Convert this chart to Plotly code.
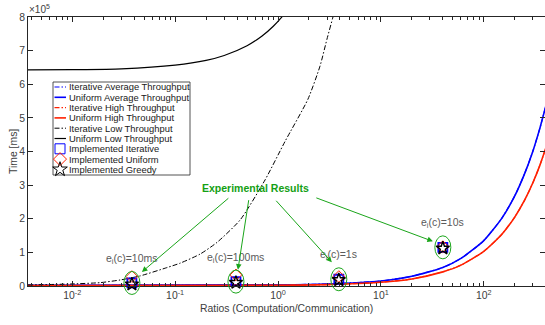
import math
import plotly.graph_objects as go

# ---------------- model curves: time [ms] vs computation/communication ratio ----------------
ratio_avg_high = [0.0037, 1, 3, 10, 20, 40, 60, 100, 150, 200, 250, 300, 350, 400]
iterative_avg = [2e3, 3.5e3, 6e3, 1.5e4, 2.9e4, 5.5e4, 8.2e4, 1.35e5, 2.02e5, 2.68e5, 3.35e5, 4.01e5, 4.68e5, 5.34e5]
uniform_avg = [2e3, 3.5e3, 6e3, 1.5e4, 2.9e4, 5.5e4, 8.2e4, 1.35e5, 2.02e5, 2.68e5, 3.35e5, 4.01e5, 4.68e5, 5.34e5]
iterative_high = [1e3, 2e3, 4e3, 1.1e4, 2.1e4, 4.2e4, 6.2e4, 1.03e5, 1.54e5, 2.05e5, 2.56e5, 3.07e5, 3.58e5, 4.1e5]
uniform_high = [1e3, 2e3, 4e3, 1.1e4, 2.1e4, 4.2e4, 6.2e4, 1.03e5, 1.54e5, 2.05e5, 2.56e5, 3.07e5, 3.58e5, 4.1e5]

ratio_low_uniform = [0.0037, 0.01, 0.03, 0.1, 0.2, 0.3, 0.5, 0.7, 0.9, 1.1, 1.3, 1.5]
uniform_low = [6.425e5, 6.435e5, 6.46e5, 6.57e5, 6.71e5, 6.855e5, 7.145e5, 7.435e5,
               7.725e5, 8.015e5, 8.305e5, 8.595e5]

ratio_low_iterative = [0.0037, 0.0096, 0.0187, 0.0293, 0.0457, 0.0837, 0.112, 0.175, 0.256,
                       0.43, 0.75, 1.17, 1.95, 2.56, 2.99, 3.42, 4.0]
iterative_low = [3e3, 6e3, 1.0e4, 1.8e4, 3.0e4, 5.5e4, 6.8e4, 9.5e4, 1.3e5,
                 1.97e5, 3.16e5, 4.3e5, 5.55e5, 6.54e5, 7.34e5, 8.0e5, 8.8e5]

# ---------------- measured (implemented) results ----------------
exp_ratio = [0.038, 0.39, 3.9, 40]
impl_iterative = [9e3, 1.3e4, 2.0e4, 1.15e5]
impl_uniform = [2.8e4, 3.3e4, 2.8e4, 1.17e5]
impl_greedy = [5e3, 1.0e4, 1.8e4, 1.12e5]
exp_labels = ["10ms", "100ms", "1s", "10s"]

# ---------------- axes ----------------
x_tick_vals = [0.01, 0.1, 1, 10, 100]
x_tick_text = ["10<sup>-2</sup>", "10<sup>-1</sup>", "10<sup>0</sup>", "10<sup>1</sup>", "10<sup>2</sup>"]
y_tick_vals = [0, 1e5, 2e5, 3e5, 4e5, 5e5, 6e5, 7e5, 8e5]
y_tick_text = ["0", "1", "2", "3", "4", "5", "6", "7", "8"]

legend_names = ["Iterative Average Throughput", "Uniform Average Throughput",
                "Iterative High Throughput", "Uniform High Throughput",
                "Iterative Low Throughput", "Uniform Low Throughput",
                "Implemented Iterative", "Implemented Uniform", "Implemented Greedy"]

X_RANGE = [-2.43, 2.595]
Y_RANGE = [0, 8e5]
W, H = 545, 325
M_L, M_R, M_T, M_B = 28, 0, 17, 39
PLOT_W, PLOT_H = W - M_L - M_R, H - M_T - M_B

FONT = "Liberation Sans, Arial, Helvetica, sans-serif"
AXIS = "#262626"
TEXT = "#404040"
GREEN = "#1aa51a"
BLUE = "#0000ff"
RED = "#ff2000"
BLACK = "#000000"
DASHDOT = "5px,2px,1.5px,2px"

minor_vals = [k * 10.0 ** d for d in range(-3, 3) for k in range(2, 10)]


def px_x(p):
    """page pixel column -> paper x"""
    return (p - M_L) / PLOT_W


def px_y(p):
    """page pixel row -> paper y"""
    return (H - M_B - p) / PLOT_H


def x_paper(r):
    return (math.log10(r) - X_RANGE[0]) / (X_RANGE[1] - X_RANGE[0])


def y_paper(v):
    return (v - Y_RANGE[0]) / (Y_RANGE[1] - Y_RANGE[0])


fig = go.Figure()

line_styles = [
    (ratio_avg_high, iterative_avg, BLUE, DASHDOT, 1.2),
    (ratio_avg_high, uniform_avg, BLUE, "solid", 1.6),
    (ratio_avg_high, iterative_high, RED, DASHDOT, 1.2),
    (ratio_avg_high, uniform_high, RED, "solid", 1.6),
    (ratio_low_iterative, iterative_low, BLACK, DASHDOT, 1.0),
    (ratio_low_uniform, uniform_low, BLACK, "solid", 1.2),
]
for (xs, ys, color, dash, width), name in zip(line_styles, legend_names[:6]):
    fig.add_trace(go.Scatter(
        x=xs, y=ys, mode="lines", name=name, showlegend=False,
        line=dict(color=color, dash=dash, width=width, shape="spline", smoothing=0.6),
    ))

marker_styles = [
    (impl_iterative, "square-open", BLUE, 9, 1.8),
    (impl_uniform, "diamond-open", RED, 9, 1.0),
    (impl_greedy, "star-open", BLACK, 10, 1.4),
]
for (ys, symbol, color, size, lw), name in zip(marker_styles, legend_names[6:]):
    fig.add_trace(go.Scatter(
        x=exp_ratio, y=ys, mode="markers", name=name, showlegend=False, cliponaxis=False,
        marker=dict(symbol=symbol, size=size, color=color, line=dict(color=color, width=lw)),
    ))

# green ellipses around each measured group
for r, v in zip(exp_ratio, impl_iterative):
    fig.add_shape(type="circle", xref="paper", yref="paper",
                  xsizemode="pixel", ysizemode="pixel",
                  xanchor=x_paper(r), yanchor=y_paper(v),
                  x0=-8, x1=8, y0=-11.5, y1=11.5,
                  line=dict(color=GREEN, width=1))

# e_i(c) labels above each group
for r, v, lab in zip(exp_ratio, impl_iterative, exp_labels):
    fig.add_annotation(x=math.log10(r), y=v, xref="x", yref="y",
                       text="e<sub>i</sub>(c)=" + lab, showarrow=False,
                       yshift=24, xanchor="center", yanchor="middle",
                       font=dict(family=FONT, size=10.5, color="#5a5a5a"))

# arrows from the caption to each group (head offset / tail offset in px)
arrow_offsets = [(10, 11, 88, -75), (2, 12, 11, -71), (-7, 17, -57, -63), (-10, 6, -118, -44)]
for (r, v), (dx, dy, ax, ay) in zip(zip(exp_ratio, impl_iterative), arrow_offsets):
    fig.add_annotation(x=math.log10(r), y=v, xref="x", yref="y", text="",
                       showarrow=True, xshift=dx, yshift=dy, ax=ax, ay=ay,
                       axref="pixel", ayref="pixel",
                       arrowhead=2, arrowsize=1.1, arrowwidth=1, arrowcolor=GREEN,
                       standoff=0, startstandoff=0)

fig.add_annotation(x=px_x(255), y=px_y(188), xref="paper", yref="paper",
                   text="<b>Experimental Results</b>", showarrow=False,
                   xanchor="center", yanchor="middle",
                   font=dict(family=FONT, size=10.5, color="#14a014"))

# axis titles and the exponent header
fig.add_annotation(x=px_x(286), y=px_y(308), xref="paper", yref="paper",
                   text="Ratios (Computation/Communication)", showarrow=False,
                   xanchor="center", yanchor="middle",
                   font=dict(family=FONT, size=10.4, color=TEXT))
fig.add_annotation(x=px_x(13), y=px_y(152), xref="paper", yref="paper", text="Time [ms]",
                   textangle=-90, showarrow=False, xanchor="center", yanchor="middle",
                   font=dict(family=FONT, size=10.4, color=TEXT))
fig.add_annotation(x=px_x(27), y=px_y(9), xref="paper", yref="paper",
                   text="\u00d710<sup>5</sup>", xanchor="left", yanchor="middle",
                   showarrow=False, font=dict(family=FONT, size=10, color=TEXT))

# legend drawn on a page-pixel overlay axis pair
fig.update_layout(
    xaxis2=dict(overlaying="x", range=[M_L, W - M_R], visible=False, fixedrange=True),
    yaxis2=dict(overlaying="y", range=[H - M_B, M_T], visible=False, fixedrange=True),
)
LEG_X0, LEG_X1, LEG_Y0, LEG_Y1 = 53, 190, 82, 175
ROW0, ROW_STEP = 87, 10.3
fig.add_shape(type="rect", xref="paper", yref="paper",
              x0=px_x(LEG_X0), x1=px_x(LEG_X1), y0=px_y(LEG_Y1), y1=px_y(LEG_Y0),
              line=dict(color=AXIS, width=0.8), fillcolor="white", layer="below")
for i, name in enumerate(legend_names):
    yy = ROW0 + i * ROW_STEP
    if i < 6:
        _, _, color, dash, width = line_styles[i]
        fig.add_trace(go.Scatter(x=[54.5, 66], y=[yy, yy], xaxis="x2", yaxis="y2", mode="lines",
                                 showlegend=False, hoverinfo="skip", cliponaxis=False,
                                 line=dict(color=color, dash=dash, width=width)))
    else:
        _, symbol, color, size, lw = marker_styles[i - 6]
        fig.add_trace(go.Scatter(x=[60], y=[yy], xaxis="x2", yaxis="y2", mode="markers",
                                 showlegend=False, hoverinfo="skip", cliponaxis=False,
                                 marker=dict(symbol=symbol, size=size + 1, color=color,
                                             line=dict(color=color, width=1))))
    fig.add_annotation(x=px_x(67), y=px_y(yy), xref="paper", yref="paper", text=name,
                       xanchor="left", yanchor="middle", showarrow=False,
                       font=dict(family=FONT, size=9.4, color="#202020"))

fig.update_layout(
    width=W, height=H,
    margin=dict(l=M_L, r=M_R, t=M_T, b=M_B, autoexpand=False),
    paper_bgcolor="white", plot_bgcolor="white",
    showlegend=False,
    font=dict(family=FONT, size=10.4, color=TEXT),
)
fig.update_layout(xaxis=dict(
    type="log", range=X_RANGE, tickmode="array", tickvals=x_tick_vals, ticktext=x_tick_text,
    ticks="inside", ticklen=5, tickwidth=1, tickcolor=AXIS,
    showline=True, linecolor=AXIS, linewidth=1, mirror="ticks",
    showgrid=False, zeroline=False, automargin=False,
    tickfont=dict(family=FONT, size=10.4, color=TEXT),
    minor=dict(tickmode="array", tickvals=minor_vals, ticks="inside", ticklen=3,
               tickwidth=1, tickcolor=AXIS, showgrid=False),
))
fig.update_layout(yaxis=dict(
    range=Y_RANGE, tickmode="array", tickvals=y_tick_vals, ticktext=y_tick_text,
    ticks="inside", ticklen=5, tickwidth=1, tickcolor=AXIS,
    showline=True, linecolor=AXIS, linewidth=1, mirror="ticks",
    showgrid=False, zeroline=False, automargin=False,
    tickfont=dict(family=FONT, size=10.4, color=TEXT),
))

fig.write_html("out.html")
